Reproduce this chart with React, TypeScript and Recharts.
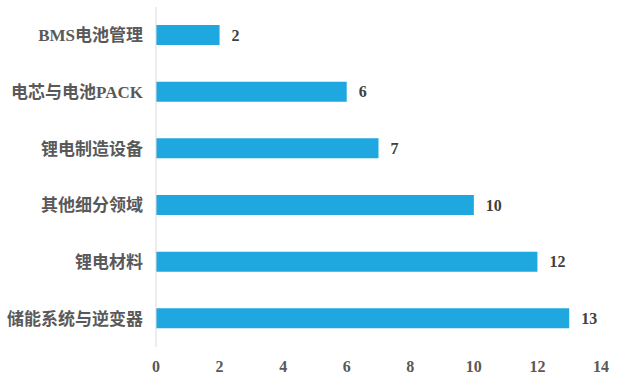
import { BarChart, Bar, XAxis, YAxis, LabelList } from 'recharts';

const categories = ['BMS电池管理', '电芯与电池PACK', '锂电制造设备', '其他细分领域', '锂电材料', '储能系统与逆变器'];
const counts = [2, 6, 7, 10, 12, 13];
const xTicks = [0, 2, 4, 6, 8, 10, 12, 14];

const data = categories.map((name, i) => ({ name, value: counts[i] }));

const font = "'Liberation Serif', 'Times New Roman', 'Noto Sans CJK SC', serif";

export default function App() {
  return (
    <div style={{ position: 'absolute', left: 0, top: 0, width: 623, height: 391, background: '#fff' }}>
      <BarChart
        width={623}
        height={391}
        data={data}
        layout="vertical"
        margin={{ top: 7, right: 22, bottom: 14, left: 0 }}
        barCategoryGap={0}
      >
        <XAxis
          type="number"
          domain={[0, 14]}
          ticks={xTicks}
          axisLine={false}
          tickLine={false}
          tickMargin={8}
          height={30}
          tick={{ fill: '#595959', fontSize: 16, fontWeight: 'bold', fontFamily: font }}
        />
        <YAxis
          type="category"
          dataKey="name"
          width={156}
          axisLine={{ stroke: '#d9d9d9' }}
          tickLine={false}
          tickMargin={7}
          tick={{ fill: '#595959', fontSize: 17, fontWeight: 'bold', fontFamily: font }}
        />
        <Bar dataKey="value" fill="#1fa7e0" barSize={20} isAnimationActive={false}>
          <LabelList
            dataKey="value"
            position="right"
            offset={12}
            style={{ fill: '#404040', fontSize: 16, fontWeight: 'bold', fontFamily: font }}
          />
        </Bar>
      </BarChart>
    </div>
  );
}
